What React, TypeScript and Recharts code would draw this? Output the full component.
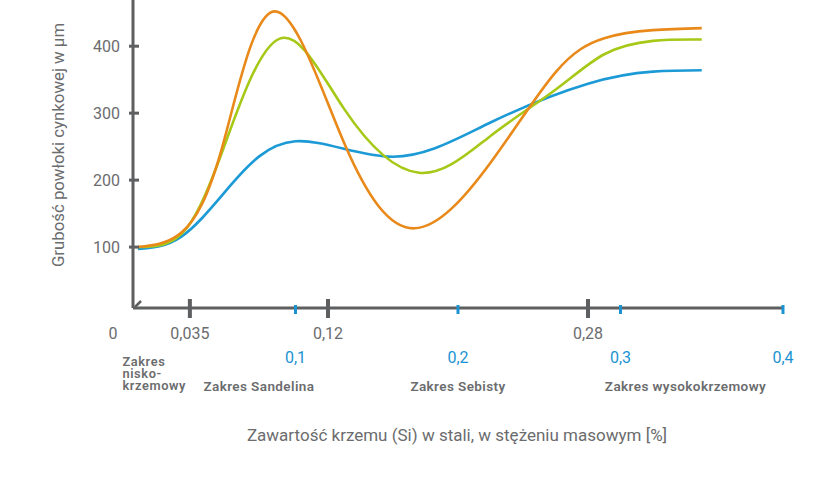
import React from "react";
import { LineChart, Line, XAxis, YAxis, Label } from "recharts";

// Orange series: x = silicon content (mass %), y = coating thickness (µm)
const orangeX = [0.003, 0.03, 0.055, 0.087, 0.13, 0.173, 0.22, 0.26, 0.29, 0.32, 0.35];
const orangeY = [100, 122, 250, 452, 255, 128, 226, 361, 412, 424, 427];
// Green series
const greenX = [0.003, 0.03, 0.055, 0.09, 0.13, 0.176, 0.22, 0.26, 0.29, 0.32, 0.35];
const greenY = [100, 120, 243, 411, 306, 211, 266, 335, 388, 408, 410];
// Blue series
const blueX = [0.003, 0.03, 0.06, 0.1, 0.16, 0.22, 0.28, 0.32, 0.35];
const blueY = [97, 116, 192, 258, 235, 286, 344, 362, 364];

const grayTicks = [0, 0.035, 0.12, 0.28];
const grayTickLabels = ["0", "0,035", "0,12", "0,28"];
const blueTicks = [0.1, 0.2, 0.3, 0.4];
const blueTickLabels = ["0,1", "0,2", "0,3", "0,4"];
const yTicks = [100, 200, 300, 400];

const rangeStarts = [0, 0.035, 0.12, 0.28];
const rangeEnds = [0.035, 0.12, 0.28, 0.4];
const rangeLabels = [["Zakres", "nisko-", "krzemowy"], ["Zakres Sandelina"], ["Zakres Sebisty"], ["Zakres wysokokrzemowy"]];

const yAxisTitle = "Grubość powłoki cynkowej w µm";
const xAxisTitle = "Zawartość krzemu (Si) w stali, w stężeniu masowym [%]";

const AXIS = "#5e5f61";
const TEXT = "#6b6c6e";
const BLUE = "#1b93d2";
const FONT = "Roboto, 'DejaVu Sans', sans-serif";

const toData = (xs: number[], ys: number[]) => xs.map((x, i) => ({ x, v: ys[i] }));
const orangeData = toData(orangeX, orangeY);
const greenData = toData(greenX, greenY);
const blueData = toData(blueX, blueY);

const rangeMids = rangeStarts.map((s, i) => (s + rangeEnds[i]) / 2);
const near = (a: number, b: number) => Math.abs(a - b) < 1e-9;
const allXTicks = Array.from(new Set([...grayTicks, ...blueTicks, ...rangeMids])).sort((a, b) => a - b);

const MainXTick = (props: any) => {
  const { x, y, payload } = props;
  const v = payload.value;
  const parts: React.ReactNode[] = [];
  const gi = grayTicks.findIndex((t) => near(t, v));
  if (gi === 0) {
    parts.push(<line key="o" x1={x + 2} y1={y - 1} x2={x + 8} y2={y - 7} stroke={AXIS} strokeWidth={2.5} />);
    parts.push(
      <text key="ot" x={x - 20} y={y + 31} textAnchor="middle" fill={TEXT} fontSize={16} fontFamily={FONT}>
        {grayTickLabels[gi]}
      </text>
    );
  } else if (gi > 0) {
    parts.push(<rect key="g" x={x - 2} y={y - 9} width={4} height={19} fill={AXIS} />);
    parts.push(
      <text key="gt" x={x} y={y + 31} textAnchor="middle" fill={TEXT} fontSize={16} fontFamily={FONT}>
        {grayTickLabels[gi]}
      </text>
    );
  }
  const bi = blueTicks.findIndex((t) => near(t, v));
  if (bi >= 0) {
    parts.push(<rect key="b" x={x - 1.5} y={y - 3} width={3} height={9} fill={BLUE} />);
    parts.push(
      <text key="bt" x={x} y={y + 55} textAnchor="middle" fill={BLUE} fontSize={16} fontFamily={FONT}>
        {blueTickLabels[bi]}
      </text>
    );
  }
  const ri = rangeMids.findIndex((t) => near(t, v));
  if (ri >= 0) {
    const lines = rangeLabels[ri];
    if (lines.length > 1) {
      lines.forEach((t, k) =>
        parts.push(
          <text key={"r" + k} x={x - 39} y={y + 58 + k * 12} textAnchor="start" fill={TEXT} fontSize={12.8} letterSpacing={0.6} fontWeight={600} fontFamily={FONT}>
            {t}
          </text>
        )
      );
    } else {
      parts.push(
        <text key="r" x={x} y={y + 83} textAnchor="middle" fill={TEXT} fontSize={13.5} letterSpacing={0.4} fontWeight={600} fontFamily={FONT}>
          {lines[0]}
        </text>
      );
    }
  }
  return <g>{parts}</g>;
};

const YTick = (props: any) => {
  const { x, y, payload } = props;
  return (
    <g>
      <line x1={x - 4} y1={y} x2={x + 6} y2={y} stroke={AXIS} strokeWidth={3} />
      <text x={x - 13} y={y + 6} textAnchor="end" fill={TEXT} fontSize={16} fontFamily={FONT}>
        {payload.value}
      </text>
    </g>
  );
};

export default function App() {
  return (
    <div style={{ position: "absolute", left: 0, top: 0, width: 840, height: 480, background: "#fff" }}>
      <LineChart width={840} height={480} margin={{ top: 0, right: 57, left: 0, bottom: 0 }}>
        <XAxis
          xAxisId="main"
          dataKey="x"
          type="number"
          domain={[0, 0.4]}
          allowDataOverflow
          ticks={allXTicks}
          interval={0}
          height={172}
          tickSize={0}
          tickMargin={0}
          tickLine={false}
          axisLine={{ stroke: AXIS, strokeWidth: 3 }}
          tick={<MainXTick />}
        >
          <Label
            content={(p: any) => {
              const vb = p.viewBox || { x: 133, y: 308, width: 650, height: 172 };
              return (
                <text x={vb.x + vb.width / 2 - 1} y={vb.y + 133} textAnchor="middle" fill={TEXT} fontSize={17} fontFamily={FONT}>
                  {xAxisTitle}
                </text>
              );
            }}
          />
        </XAxis>
        <YAxis
          yAxisId="y"
          type="number"
          domain={[9, 469]}
          allowDataOverflow
          ticks={yTicks}
          interval={0}
          width={133}
          tickSize={0}
          tickMargin={0}
          tickLine={false}
          axisLine={{ stroke: AXIS, strokeWidth: 3 }}
          tick={<YTick />}
        >
          <Label
            content={(p: any) => {
              const vb = p.viewBox || { x: 0, y: 0, width: 133, height: 308 };
              const cx = vb.x + 58;
              const cy = vb.y + vb.height / 2 - 9;
              return (
                <text x={cx} y={cy} transform={`rotate(-90 ${cx} ${cy})`} textAnchor="middle" dominantBaseline="central" fill={TEXT} fontSize={16.8} fontFamily={FONT}>
                  {yAxisTitle}
                </text>
              );
            }}
          />
        </YAxis>
        <Line xAxisId="main" yAxisId="y" data={blueData} type="natural" dataKey="v" stroke="#1c9ad6" strokeWidth={2.6} dot={false} isAnimationActive={false} />
        <Line xAxisId="main" yAxisId="y" data={greenData} type="natural" dataKey="v" stroke="#a6c817" strokeWidth={2.6} dot={false} isAnimationActive={false} />
        <Line xAxisId="main" yAxisId="y" data={orangeData} type="natural" dataKey="v" stroke="#e8891a" strokeWidth={2.6} dot={false} isAnimationActive={false} />
      </LineChart>
    </div>
  );
}
